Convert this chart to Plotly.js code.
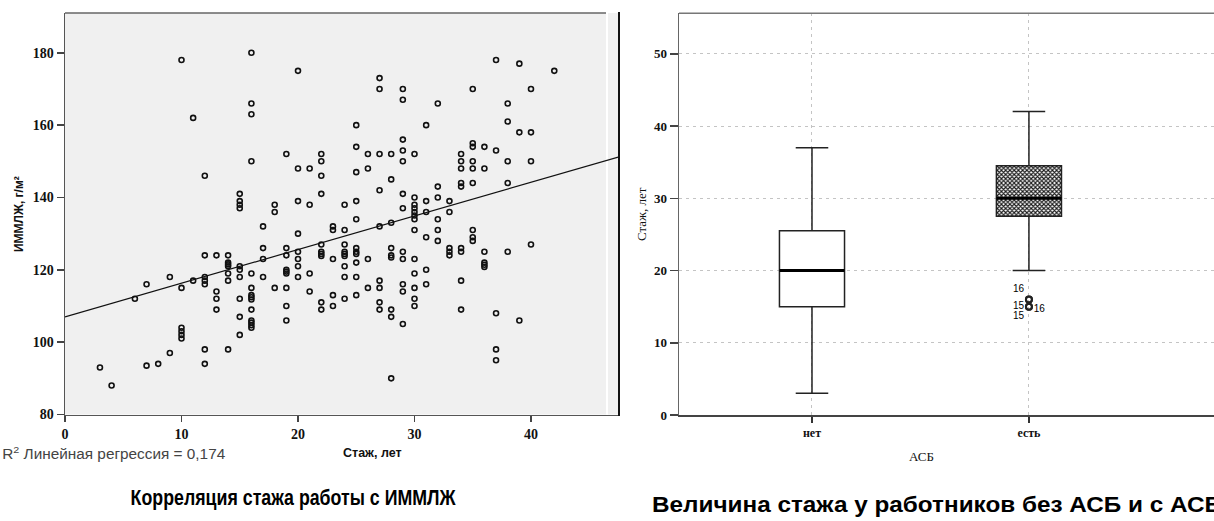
<!DOCTYPE html>
<html>
<head>
<meta charset="utf-8">
<script src="https://cdn.plot.ly/plotly-3.0.1.min.js"></script>
<style>html,body{margin:0;padding:0;background:#fff;}#chart{width:1214px;height:521px;}</style>
</head>
<body>
<div id="chart"></div>
<script>
// ---- Left chart: стаж (years) vs ИММЛЖ (g/m²) ----
const stazh = [
  3, 4, 6, 7, 7, 8, 9, 9,
  10, 10, 10, 10, 10, 10,
  11, 11,
  12, 12, 12, 12, 12, 12, 12,
  13, 13, 13, 13,
  14, 14, 14, 14, 14, 14, 14,
  15, 15, 15, 15, 15, 15, 15, 15, 15, 15,
  16, 16, 16, 16, 16, 16, 16, 16, 16, 16, 16, 16, 16, 16,
  17, 17, 17, 17,
  18, 18, 18,
  19, 19, 19, 19, 19, 19, 19, 19, 19,
  20, 20, 20, 20, 20, 20, 20, 20,
  21, 21, 21, 21,
  22, 22, 22, 22, 22, 22, 22, 22, 22, 22,
  23, 23, 23, 23, 23,
  24, 24, 24, 24, 24, 24, 24, 24, 24,
  25, 25, 25, 25, 25, 25, 25, 25, 25, 25, 25,
  26, 26, 26, 26,
  27, 27, 27, 27, 27, 27, 27, 27, 27,
  28, 28, 28, 28, 28, 28, 28, 28, 28,
  29, 29, 29, 29, 29, 29, 29, 29, 29, 29, 29, 29,
  30, 30, 30, 30, 30, 30, 30, 30, 30, 30, 30, 30, 30,
  31, 31, 31, 31, 31, 31,
  32, 32, 32, 32, 32, 32,
  33, 33, 33, 33, 33,
  34, 34, 34, 34, 34, 34, 34, 34, 34,
  35, 35, 35, 35, 35, 35, 35, 35, 35,
  36, 36, 36, 36, 36, 36,
  37, 37, 37, 37, 37,
  38, 38, 38, 38, 38,
  39, 39, 39,
  40, 40, 40, 40,
  42
];
const immlzh = [
  93, 88, 112, 116, 93.5, 94, 118, 97,
  178, 115, 104, 103, 102, 101,
  162, 117,
  146, 124, 118, 117, 116, 98, 94,
  124, 114, 112, 109,
  124, 122, 121.5, 121, 119, 117, 98,
  141, 139, 138, 137, 121, 120, 118, 112, 107, 102,
  180, 166, 163, 150, 119, 115, 113, 112.4, 111.8, 109, 106, 105.4, 104.7, 104,
  132, 126, 123, 118,
  138, 136, 115,
  152, 126, 124, 120, 119.5, 119, 115, 110, 106,
  175, 148, 139, 130, 125, 123, 121, 118,
  148, 138, 119, 114,
  152, 150, 146, 141, 127, 125, 124.4, 123.8, 111, 109,
  132, 131, 123, 113, 110,
  138, 131, 127, 125, 124.4, 123.8, 121, 118, 112,
  160, 154, 147, 139, 134, 126, 125, 124.4, 122, 118, 113,
  152, 148, 123, 115,
  173, 170, 152, 142, 132, 117, 115, 111, 109,
  152, 145, 133, 126, 124, 123.4, 109, 107, 90,
  170, 167, 156, 153, 150, 141, 137, 125, 123, 116, 114, 105,
  152, 140, 138, 137, 136, 135, 134, 131, 123, 119, 115, 112, 110,
  160, 139, 136, 129, 120, 116,
  166, 143, 140, 134, 131, 128,
  139, 136, 126, 125, 124,
  152, 150, 148, 144, 143, 126, 125, 117, 109,
  170, 155, 154, 150, 148, 144, 131, 129, 128,
  154, 148, 125, 122, 121.4, 120.8,
  178, 153, 108, 98, 95,
  166, 161, 150, 144, 125,
  177, 158, 106,
  170, 158, 150, 127,
  175
];
const fitIntercept = 107.0;
const fitSlope = 0.93;
const r2Value = "0,174";
const leftXTicks = [0, 10, 20, 30, 40];
const leftYTicks = [80, 100, 120, 140, 160, 180];

// ---- Right chart: стаж by АСБ ----
const asbCategories = ["нет", "есть"];
const asbQ1 = [15, 27.5];
const asbMedian = [20, 30];
const asbQ3 = [25.5, 34.5];
const asbLowerFence = [3, 20];
const asbUpperFence = [37, 42];
const asbOutlierCategory = [1, 1, 1, 1];
const asbOutlierValues = [16, 16, 15, 15];
const asbOutlierLabels = ["16", "16", "15", "15"];
const rightYTicks = [0, 10, 20, 30, 40, 50];

// ---- layout helpers (pixel -> paper) ----
const W = 1214, H = 521;
const px = v => v / W;
const py = v => 1 - v / H;

const leftXMax = 47.64;
const boxWidth = 0.3;

const fitX = [0, leftXMax];
const fitY = fitX.map(x => fitIntercept + fitSlope * x);

const medX = [], medY = [];
asbMedian.forEach((m, i) => { medX.push(i - boxWidth / 2, i + boxWidth / 2, null); medY.push(m, m, null); });

const traces = [
  {
    type: 'bar', x: [1], base: [asbQ1[1]], y: [asbQ3[1] - asbQ1[1]], width: [boxWidth],
    xaxis: 'x2', yaxis: 'y2', hoverinfo: 'skip', showlegend: false,
    marker: { color: '#ffffff', line: { width: 0 },
      pattern: { shape: 'x', size: 3, solidity: 0.6, fgcolor: '#1a1a1a', bgcolor: '#ffffff' } }
  },
  {
    type: 'scatter', mode: 'markers', x: stazh, y: immlzh, xaxis: 'x', yaxis: 'y',
    marker: { symbol: 'circle-open', size: 5, color: '#111', line: { width: 1.6, color: '#111' } },
    showlegend: false, hoverinfo: 'x+y'
  },
  {
    type: 'scatter', mode: 'lines', x: fitX, y: fitY, xaxis: 'x', yaxis: 'y',
    line: { color: '#111', width: 1.2 }, showlegend: false, hoverinfo: 'skip'
  },
  {
    type: 'box', x: [0], q1: [asbQ1[0]], median: [asbMedian[0]], q3: [asbQ3[0]],
    lowerfence: [asbLowerFence[0]], upperfence: [asbUpperFence[0]],
    width: boxWidth, whiskerwidth: 0.5, fillcolor: '#ffffff',
    line: { color: '#222', width: 1.5 }, xaxis: 'x2', yaxis: 'y2', showlegend: false, boxpoints: false
  },
  {
    type: 'box', x: [1], q1: [asbQ1[1]], median: [asbMedian[1]], q3: [asbQ3[1]],
    lowerfence: [asbLowerFence[1]], upperfence: [asbUpperFence[1]],
    width: boxWidth, whiskerwidth: 0.5, fillcolor: 'rgba(0,0,0,0)',
    line: { color: '#222', width: 1.5 }, xaxis: 'x2', yaxis: 'y2', showlegend: false, boxpoints: false
  },
  {
    type: 'scatter', mode: 'lines', x: medX, y: medY, xaxis: 'x2', yaxis: 'y2',
    line: { color: '#000', width: 3 }, showlegend: false, hoverinfo: 'skip', connectgaps: false
  },
  {
    type: 'scatter', mode: 'markers+text', x: asbOutlierCategory, y: asbOutlierValues,
    text: asbOutlierLabels, textposition: ['top left', 'bottom right', 'middle left', 'bottom left'],
    textfont: { family: 'Liberation Sans, Arial, sans-serif', size: 10, color: '#000000' },
    marker: { symbol: 'circle-open', size: 6, color: '#222', line: { width: 2, color: '#222' } },
    xaxis: 'x2', yaxis: 'y2', showlegend: false
  }
];

const serifBold = { family: 'Liberation Serif, Times New Roman, serif', size: 14, color: '#111', weight: 'bold' };

const layout = {
  width: W, height: H,
  margin: { l: 0, r: 0, t: 0, b: 0 },
  paper_bgcolor: '#ffffff', plot_bgcolor: 'rgba(0,0,0,0)',
  showlegend: false,
  bargap: 0,
  xaxis: {
    domain: [px(65), px(620)], range: [0, leftXMax], anchor: 'y',
    tickvals: leftXTicks, ticks: 'outside', ticklen: 6, tickwidth: 1.5, tickcolor: '#444',
    showgrid: false, zeroline: false, showline: true, linecolor: '#555', linewidth: 1.5,
    tickfont: serifBold, fixedrange: true
  },
  yaxis: {
    domain: [py(414.5), py(13)], range: [80, 191], anchor: 'x',
    tickvals: leftYTicks, ticks: 'outside', ticklen: 7, tickwidth: 1.5, tickcolor: '#444',
    showgrid: false, zeroline: false, showline: true, linecolor: '#555', linewidth: 1.5,
    tickfont: serifBold, fixedrange: true
  },
  xaxis2: {
    domain: [px(679), 1], range: [-0.613, 1.853], anchor: 'y2',
    tickvals: [0, 1], ticktext: asbCategories, ticks: 'outside', ticklen: 6, tickwidth: 1.2, tickcolor: '#333',
    showgrid: true, gridcolor: '#c4c4c4', griddash: '3px,4px', gridwidth: 1,
    zeroline: false, showline: true, linecolor: '#444', linewidth: 2,
    tickfont: { family: 'Liberation Serif, Times New Roman, serif', size: 12, color: '#111', weight: 'bold' },
    fixedrange: true
  },
  yaxis2: {
    domain: [py(415), py(13.3)], range: [0, 55.6], anchor: 'x2',
    tickvals: rightYTicks, ticks: 'outside', ticklen: 8, tickwidth: 1.5, tickcolor: '#444',
    showgrid: true, gridcolor: '#c4c4c4', griddash: '3px,4px', gridwidth: 1,
    zeroline: false, showline: true, linecolor: '#666', linewidth: 1.5,
    tickfont: { family: 'Liberation Serif, Times New Roman, serif', size: 13, color: '#111', weight: 'bold' },
    fixedrange: true
  },
  shapes: [
    { type: 'rect', xref: 'paper', yref: 'paper', x0: px(65), x1: px(606), y0: py(414.5), y1: py(13),
      fillcolor: '#f0f0f0', line: { width: 0 }, layer: 'below' },
    { type: 'rect', xref: 'paper', yref: 'paper', x0: px(608), x1: px(618), y0: py(414.5), y1: py(13),
      fillcolor: '#f0f0f0', line: { width: 0 }, layer: 'below' },
    { type: 'line', xref: 'paper', yref: 'paper', x0: px(65), x1: px(606), y0: py(13), y1: py(13),
      line: { color: '#666', width: 1.5 } },
    { type: 'line', xref: 'paper', yref: 'paper', x0: px(619), x1: px(619), y0: py(416), y1: py(12),
      line: { color: '#111', width: 2 } },
    { type: 'line', xref: 'paper', yref: 'paper', x0: px(679), x1: 1, y0: py(13.3), y1: py(13.3),
      line: { color: '#777', width: 1.5 } }
  ],
  annotations: [
    { xref: 'paper', yref: 'paper', x: px(19), y: py(214), text: 'ИММЛЖ, г/м²', textangle: -90,
      showarrow: false, xanchor: 'center', yanchor: 'middle',
      font: { family: 'Liberation Sans, Arial, sans-serif', size: 12, color: '#111', weight: 'bold' } },
    { xref: 'paper', yref: 'paper', x: px(372), y: py(453), text: 'Стаж, лет',
      showarrow: false, xanchor: 'center', yanchor: 'middle',
      font: { family: 'Liberation Sans, Arial, sans-serif', size: 12.5, color: '#111', weight: 'bold' } },
    { xref: 'paper', yref: 'paper', x: px(113.5), y: py(453), text: 'R<sup>2</sup> Линейная регрессия = ' + r2Value,
      showarrow: false, xanchor: 'center', yanchor: 'middle',
      font: { family: 'Liberation Sans, Arial, sans-serif', size: 14, color: '#444' } },
    { xref: 'paper', yref: 'paper', x: px(641), y: py(214), text: 'Стаж, лет', textangle: -90,
      showarrow: false, xanchor: 'center', yanchor: 'middle',
      font: { family: 'Liberation Serif, Times New Roman, serif', size: 13, color: '#111' } },
    { xref: 'paper', yref: 'paper', x: px(921), y: py(456), text: 'АСБ',
      showarrow: false, xanchor: 'center', yanchor: 'middle',
      font: { family: 'Liberation Serif, Times New Roman, serif', size: 13, color: '#111' } },
    { xref: 'paper', yref: 'paper', x: px(292.5), y: py(497), text: 'Корреляция стажа работы с ИММЛЖ',
      showarrow: false, xanchor: 'center', yanchor: 'middle',
      font: { family: 'Liberation Sans, Arial, sans-serif', size: 22, color: '#000', weight: 'bold' } },
    { xref: 'paper', yref: 'paper', x: px(937), y: py(504), text: 'Величина стажа у работников без АСБ и с АСБ',
      showarrow: false, xanchor: 'center', yanchor: 'middle',
      font: { family: 'Liberation Sans, Arial, sans-serif', size: 22, color: '#000', weight: 'bold' } }
  ]
};

// target text widths measured on the reference (pixels), keyed by a fragment of the text
const textWidths = [
  ['Корреляция', 325],
  ['Величина', 570],
  ['Линейная', 223]
];

Plotly.newPlot('chart', traces, layout, { displayModeBar: false, staticPlot: true }).then(gd => {
  gd.querySelectorAll('.annotation-text').forEach(t => {
    const hit = textWidths.find(([k]) => t.textContent.indexOf(k) >= 0);
    if (hit) {
      t.setAttribute('textLength', hit[1]);
      t.setAttribute('lengthAdjust', 'spacingAndGlyphs');
    }
  });
});
</script>
</body>
</html>
